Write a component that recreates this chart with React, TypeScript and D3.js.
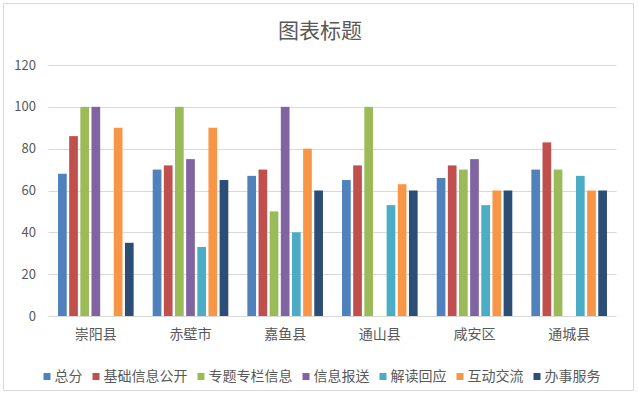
import { useEffect, useRef } from 'react'
import * as d3 from 'd3'

const categories = ['崇阳县', '赤壁市', '嘉鱼县', '通山县', '咸安区', '通城县']
const seriesNames = ['总分', '基础信息公开', '专题专栏信息', '信息报送', '解读回应', '互动交流', '办事服务']
const colors = ['#4F81BD', '#C0504D', '#9BBB59', '#8064A2', '#4BACC6', '#F79646', '#2C4D75']

// one array per series, in category order (null = no bar)
const total = [68, 70, 67, 65, 66, 70]
const basicInfo = [86, 72, 70, 72, 72, 83]
const specialColumn = [100, 100, 50, 100, 70, 70]
const infoReport = [100, 75, 100, null, 75, null]
const interpretation = [null, 33, 40, 53, 53, 67]
const interaction = [90, 90, 80, 63, 60, 60]
const services = [35, 65, 60, 60, 60, 60]
const seriesValues = [total, basicInfo, specialColumn, infoReport, interpretation, interaction, services]

const yTicks = [0, 20, 40, 60, 80, 100, 120]

const FONT = '"Noto Sans CJK SC", "Noto Sans", sans-serif'
const TEXT = '#595959'

function App() {
  const svgRef = useRef<SVGSVGElement>(null)

  useEffect(() => {
    const width = 639
    const height = 398
    const plot = { left: 48.5, right: 616.5, top: 65, bottom: 316 }

    const svg = d3.select(svgRef.current)
    svg.selectAll('*').remove()
    svg.attr('width', width).attr('height', height)

    // chart border
    svg.append('rect')
      .attr('x', 3.5).attr('y', 3.5)
      .attr('width', 630).attr('height', 387)
      .attr('fill', '#fff').attr('stroke', '#D9D9D9')

    svg.append('text')
      .attr('x', 320).attr('y', 38)
      .attr('text-anchor', 'middle')
      .attr('font-family', FONT).attr('font-size', 21)
      .attr('fill', TEXT)
      .text('图表标题')

    const x0 = d3.scaleBand().domain(categories).range([plot.left, plot.right])
    const groupW = 75.6
    const x1 = d3.scaleBand().domain(seriesNames).range([0, groupW]).paddingInner(0.22)
    const y = d3.scaleLinear().domain([0, 120]).range([plot.bottom, plot.top])

    // gridlines
    svg.append('g').selectAll('line')
      .data(yTicks)
      .join('line')
      .attr('x1', plot.left).attr('x2', plot.right)
      .attr('y1', d => Math.round(y(d)) + 0.5).attr('y2', d => Math.round(y(d)) + 0.5)
      .attr('stroke', '#D9D9D9')

    svg.append('g').selectAll('text')
      .data(yTicks)
      .join('text')
      .attr('x', 36).attr('y', d => y(d) + 4.5)
      .attr('text-anchor', 'end')
      .attr('font-family', FONT).attr('font-size', 13)
      .attr('fill', TEXT)
      .text(d => d)

    // bars
    const groups = svg.append('g').selectAll('g')
      .data(categories)
      .join('g')
      .attr('transform', d => `translate(${x0(d)! + (x0.bandwidth() - groupW) / 2},0)`)

    groups.selectAll('rect')
      .data((_, ci) => seriesNames.map((s, si) => ({ s, si, v: seriesValues[si][ci] })).filter(d => d.v != null))
      .join('rect')
      .attr('x', d => x1(d.s)!)
      .attr('width', x1.bandwidth())
      .attr('y', d => y(d.v as number))
      .attr('height', d => y(0) - y(d.v as number))
      .attr('fill', d => colors[d.si])

    // category labels
    svg.append('g').selectAll('text')
      .data(categories)
      .join('text')
      .attr('x', d => x0(d)! + x0.bandwidth() / 2)
      .attr('y', 339)
      .attr('text-anchor', 'middle')
      .attr('font-family', FONT).attr('font-size', 14)
      .attr('fill', TEXT)
      .text(d => d)

    // legend
    const fs = 14, sq = 7, gap = 4, itemGap = 10
    const widths = seriesNames.map(s => sq + gap + s.length * fs)
    const totalW = d3.sum(widths) + itemGap * (seriesNames.length - 1)
    let lx = 322 - totalW / 2
    const legend = svg.append('g')
    seriesNames.forEach((s, i) => {
      legend.append('rect')
        .attr('x', lx).attr('y', 373)
        .attr('width', sq).attr('height', sq)
        .attr('fill', colors[i])
      legend.append('text')
        .attr('x', lx + sq + gap).attr('y', 381)
        .attr('font-family', FONT).attr('font-size', fs)
        .attr('fill', TEXT)
        .text(s)
      lx += widths[i] + itemGap
    })
  }, [])

  return (
    <svg ref={svgRef} style={{ position: 'absolute', left: 0, top: 0 }}></svg>
  )
}

export default App
